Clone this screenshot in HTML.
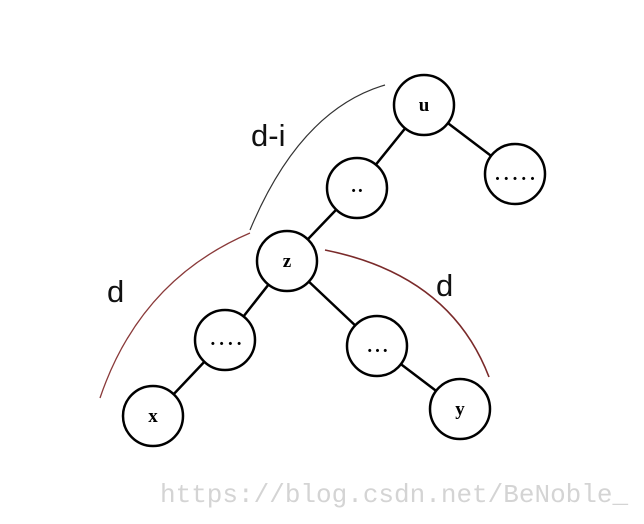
<!DOCTYPE html>
<html><head><meta charset="utf-8"><style>
html,body{margin:0;padding:0;background:#fff;}
svg{display:block;}
</style></head><body>
<svg width="644" height="524" viewBox="0 0 644 524" xmlns="http://www.w3.org/2000/svg">
<g stroke="#000" stroke-width="2.5">
<line x1="424" y1="105" x2="357" y2="188"/>
<line x1="424" y1="105" x2="515" y2="174"/>
<line x1="357" y1="188" x2="287" y2="261"/>
<line x1="287" y1="261" x2="225" y2="340"/>
<line x1="287" y1="261" x2="377" y2="346"/>
<line x1="225" y1="340" x2="153" y2="416"/>
<line x1="377" y1="346" x2="460" y2="409"/>
</g>
<g stroke="#000" stroke-width="2.5" fill="#fff">
<circle cx="424" cy="105" r="30"/>
<circle cx="357" cy="188" r="30"/>
<circle cx="515" cy="174" r="30"/>
<circle cx="287" cy="261" r="30"/>
<circle cx="225" cy="340" r="30"/>
<circle cx="377" cy="346" r="30"/>
<circle cx="153" cy="416" r="30"/>
<circle cx="460" cy="409" r="30"/>
</g>
<g font-family="Liberation Serif, serif" font-weight="bold" font-size="19" text-anchor="middle" fill="#000">
<text x="424" y="111">u</text>
<text x="358" y="192" letter-spacing="2">..</text>
<text x="517" y="180" letter-spacing="4">.....</text>
<text x="287" y="267">z</text>
<text x="228" y="345" letter-spacing="4">....</text>
<text x="379" y="352" letter-spacing="3">...</text>
<text x="153" y="422">x</text>
<text x="460" y="415">y</text>
</g>
<path d="M385 85 Q300 110 250 230" fill="none" stroke="#333" stroke-width="1.2"/>
<path d="M250 233 Q140 280 100 398" fill="none" stroke="#8a3a3a" stroke-width="1.3"/>
<path d="M325 250 Q450 275 489 377" fill="none" stroke="#7a2a2a" stroke-width="1.6"/>
<g font-family="Liberation Sans, sans-serif" font-size="31" fill="#111">
<text x="251" y="146">d-i</text>
<text x="107" y="302">d</text>
<text x="436" y="296">d</text>
</g>
<text x="160" y="502" font-family="Liberation Mono, monospace" font-size="26" fill="#d4d4d4">https://blog.csdn.net/BeNoble_</text>
</svg>
</body></html>
